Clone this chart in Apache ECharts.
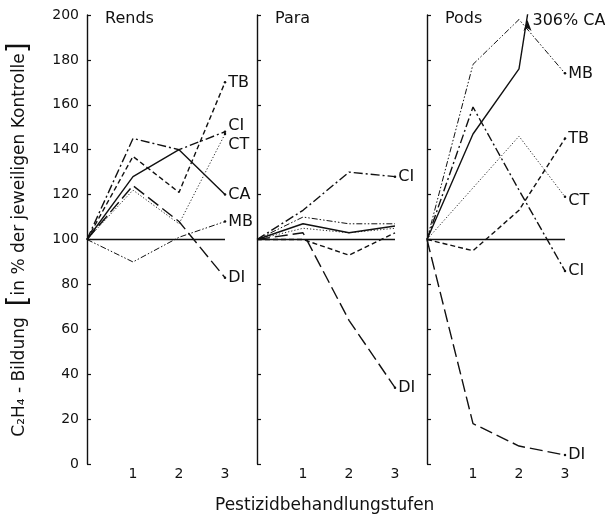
<!DOCTYPE html>
<html><head><meta charset="utf-8">
<script src="https://cdn.jsdelivr.net/npm/echarts@6/dist/echarts.min.js"></script>
<style>html,body{margin:0;padding:0;background:#fff}#c{width:605px;height:514px}</style>
</head><body><div id="c"></div>
<script>
// ---- data ----
const stufen = [0, 1, 2, 3];
const panels = ['Rends', 'Para', 'Pods'];
const kontrolle = [100, 100, 100, 100];
const rendsCA = [100, 128, 140, 120];
const rendsCI = [100, 145, 140, 148];
const rendsCT = [100, 122, 107, 147];
const rendsTB = [100, 137, 121, 170];
const rendsMB = [100, 90, 101, 108];
const rendsDI = [100, 124, 108, 83];
const paraCA = [100, 107, 103, 106];
const paraCI = [100, 113, 130, 128];
const paraCT = [100, 105, 103, 105];
const paraTB = [100, 100, 93, 103];
const paraMB = [100, 110, 107, 107];
const paraDI = [100, 103, 64, 34];
const podsCA = [100, 147, 176, 306];
const podsCI = [100, 159, 122, 86];
const podsCT = [100, 123, 146, 119];
const podsTB = [100, 95, 113, 145];
const podsMB = [100, 178, 198, 174];
const podsDI = [100, 18, 8, 4];
const yMax = 200;
const xLabel = 'Pestizidbehandlungstufen';
const yLabel = 'C₂H₄ - Bildung  {b|[}in % der jeweiligen Kontrolle{b|]}';

const pesticides = ['CA', 'CI', 'CT', 'TB', 'MB', 'DI'];
const panelSeries = [
  {CA: rendsCA, CI: rendsCI, CT: rendsCT, TB: rendsTB, MB: rendsMB, DI: rendsDI},
  {CA: paraCA, CI: paraCI, CT: paraCT, TB: paraTB, MB: paraMB, DI: paraDI},
  {CA: podsCA, CI: podsCI, CT: podsCT, TB: podsTB, MB: podsMB, DI: podsDI}
];

// ---- styles ----
const FONT = 'DejaVu Sans';
const lineTypes = {CA: 'solid', CI: [9, 3, 2, 3], CT: [1.2, 2], TB: [5, 3], MB: [6, 2, 1.5, 2, 1.5, 2], DI: [13, 5]};
const lineWidths = {CA: 1.4, CI: 1.4, CT: 0.9, TB: 1.4, MB: 1, DI: 1.4};
const labelOffsets = [
  {CA: [0, 0], CI: [0, -6], CT: [0, 11], TB: [0, 0], MB: [0, 0], DI: [0, 0]},
  {CI: [0, 0], DI: [0, 0]},
  {MB: [0, 0], TB: [0, 0], CT: [0, 4], CI: [0, 0], DI: [0, 0]}
];
const gridLefts = [87, 257, 427];
const gridTop = 15, gridHeight = 449, gridWidth = 138;

const grids = [], xAxes = [], yAxes = [], series = [], titles = [];
panels.forEach((p, pi) => {
  grids.push({left: gridLefts[pi], top: gridTop, width: gridWidth, height: gridHeight, outerBoundsMode: 'none'});
  xAxes.push({
    gridIndex: pi, type: 'value', min: 0, max: 3, interval: 1,
    axisLine: {show: false}, axisTick: {show: false}, splitLine: {show: false},
    axisLabel: {showMinLabel: false, color: '#111', fontSize: 14, fontFamily: FONT, margin: 3}
  });
  yAxes.push({
    gridIndex: pi, type: 'value', min: 0, max: yMax, interval: 20,
    axisLine: {show: true, onZero: false, lineStyle: {color: '#111', width: 1.4}},
    axisTick: {show: true, inside: true, length: 4, lineStyle: {color: '#111', width: 1.2}},
    splitLine: {show: false},
    axisLabel: {show: pi === 0, color: '#111', fontSize: 14, fontFamily: FONT, margin: 8},
    name: pi === 0 ? yLabel : '',
    nameLocation: 'middle', nameRotate: 90, nameGap: 53,
    nameTextStyle: {color: '#111', fontSize: 17, fontFamily: FONT,
      rich: {b: {fontSize: 28, fontFamily: FONT, color: '#111'}}}
  });
  titles.push({text: p, left: gridLefts[pi] + 13, top: 6,
    textStyle: {fontSize: 16, fontWeight: 'normal', color: '#111', fontFamily: FONT}});
  series.push({
    type: 'line', xAxisIndex: pi, yAxisIndex: pi, name: 'Kontrolle',
    data: stufen.map((x, i) => [x, kontrolle[i]]),
    symbol: 'none', lineStyle: {color: '#111', width: 1.4, type: 'solid'}, silent: true
  });
  pesticides.forEach(n => {
    const vals = panelSeries[pi][n];
    const off = labelOffsets[pi][n];
    const data = stufen.map((x, i) => {
      const item = {value: [x, vals[i]]};
      if (i === stufen.length - 1 && off && vals[i] <= yMax) {
        item.symbolSize = 2.5;
        item.label = {show: true, position: 'right', distance: 2, offset: off, formatter: n,
          color: '#111', fontSize: 16, fontFamily: FONT};
      }
      return item;
    });
    const s = {
      type: 'line', xAxisIndex: pi, yAxisIndex: pi, name: n, data,
      symbol: 'circle', symbolSize: 0, showSymbol: true, showAllSymbol: true,
      itemStyle: {color: '#111'}, clip: true, silent: true,
      lineStyle: {color: '#111', width: lineWidths[n], type: lineTypes[n]}
    };
    if (vals.some(v => v > yMax)) {
      // off-scale value: arrow at the top edge where the line leaves the chart
      const k = vals.findIndex(v => v > yMax);
      const xc = stufen[k - 1] + (yMax - vals[k - 1]) / (vals[k] - vals[k - 1]) * (stufen[k] - stufen[k - 1]);
      s.markPoint = {
        symbol: 'arrow', symbolSize: [6, 11], symbolOffset: [0, 5], silent: true,
        itemStyle: {color: '#111'},
        data: [{coord: [xc, yMax], value: vals[k],
          label: {show: true, position: 'right', distance: 1, offset: [0, -5], formatter: vals[k] + '% ' + n,
            color: '#111', fontSize: 16, fontFamily: FONT}}]
      };
    }
    series.push(s);
  });
});

const chart = echarts.init(document.getElementById('c'), null, {renderer: 'canvas'});
chart.setOption({
  animation: false,
  backgroundColor: '#fff',
  title: titles,
  grid: grids, xAxis: xAxes, yAxis: yAxes, series,
  graphic: [{type: 'text', left: 215, top: 497,
    style: {text: xLabel, fontSize: 17, fontFamily: FONT, fill: '#111'}}]
});
</script>
</body></html>
